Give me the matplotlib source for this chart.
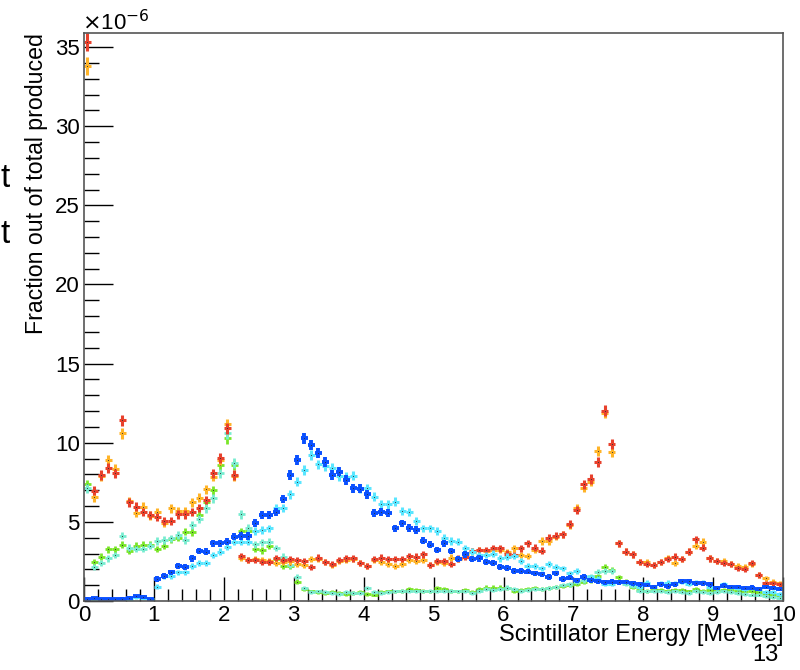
import numpy as np
import matplotlib
matplotlib.use('Agg')
import matplotlib.pyplot as plt
from matplotlib.ticker import MultipleLocator

plt.rcParams['font.family'] = ['Liberation Sans', 'DejaVu Sans']

# 100 bins of 0.1 MeVee, values in units of 1e-6
bin_lo = 0.0
bin_w = 0.1

red = [35.3, 6.97, 7.96, 8.42, 8.06, 11.43, 6.23, 5.96, 5.60, 5.43,
       5.33, 5.05, 5.05, 5.47, 5.47, 5.64, 5.89, 6.38, 8.06, 9.05,
       10.9, 7.96, 2.84, 2.59, 2.59, 2.48, 2.48, 2.70, 2.60, 2.65,
       2.60, 2.55, 2.17, 2.74, 2.48, 2.35, 2.59, 2.69, 2.69, 2.38,
       2.23, 2.63, 2.74, 2.63, 2.63, 2.63, 2.84, 2.80, 2.95, 2.27,
       2.55, 2.55, 2.31, 2.69, 2.80, 3.16, 3.22, 3.22, 3.33, 3.33,
       3.00, 2.90, 3.33, 3.64, 3.37, 3.18, 4.00, 4.13, 4.21, 4.84,
       5.73, 7.37, 7.71, 8.80, 12.02, 9.92, 3.64, 3.12, 2.95, 2.48,
       2.36, 2.27, 2.48, 2.63, 2.80, 2.65, 3.12, 3.90, 3.37, 2.69,
       2.55, 2.38, 2.31, 2.06, 2.02, 2.38, 1.64, 1.12, 1.12, 1.05]

orange = [33.8, 6.55, 7.90, 8.91, 8.34, 10.59, 6.32, 5.54, 5.96, 5.40,
          5.60, 4.91, 5.85, 5.68, 5.68, 6.23, 6.53, 7.07, 7.85, 8.90,
          11.16, 7.90, 2.70, 2.59, 2.65, 2.60, 2.50, 2.40, 2.45, 2.50,
          2.35, 2.30, 2.65, 2.65, 2.48, 2.27, 2.52, 2.59, 2.65, 2.38,
          2.23, 2.59, 2.48, 2.31, 2.23, 2.31, 2.59, 2.52, 2.59, 2.30,
          2.48, 2.38, 2.74, 2.65, 2.95, 3.12, 3.22, 3.16, 3.25, 3.22,
          3.10, 3.33, 2.90, 2.84, 3.22, 3.79, 3.79, 4.06, 4.21, 4.80,
          5.85, 7.16, 7.54, 9.48, 11.9, 9.43, 3.64, 3.12, 2.95, 2.48,
          2.45, 2.27, 2.48, 2.70, 2.38, 2.65, 3.12, 3.48, 3.75, 2.69,
          2.55, 2.55, 2.31, 2.20, 2.15, 2.31, 1.64, 1.43, 1.22, 1.12]

green = [7.37, 2.48, 2.80, 3.26, 3.26, 3.54, 3.16, 3.49, 3.54, 3.54,
         3.28, 3.50, 3.90, 4.00, 4.38, 4.35, 5.43, 6.23, 7.01, 8.59,
         10.28, 8.60, 4.40, 4.45, 3.30, 3.20, 3.50, 2.65, 2.20, 2.20,
         1.22, 0.78, 0.60, 0.55, 0.50, 0.55, 0.50, 0.45, 0.50, 0.55,
         0.45, 0.40, 0.55, 0.60, 0.60, 0.65, 0.75, 0.70, 0.65, 0.60,
         0.80, 0.75, 0.65, 0.60, 0.70, 0.55, 0.75, 0.85, 0.85, 0.85,
         0.80, 0.60, 0.70, 0.75, 0.80, 0.75, 0.80, 0.90, 0.95, 1.00,
         1.10, 1.20, 1.30, 1.55, 2.13, 1.95, 1.50, 1.22, 0.90, 0.70,
         0.65, 0.70, 0.70, 0.65, 0.70, 0.70, 0.60, 0.75, 0.65, 0.70,
         0.65, 0.70, 0.70, 0.65, 0.60, 0.60, 0.55, 0.45, 0.40, 0.35]

aqua = [7.12, 2.17, 2.38, 2.69, 2.91, 4.13, 3.37, 3.28, 3.28, 3.50,
        3.79, 3.85, 3.96, 4.17, 3.85, 4.80, 5.18, 5.85, 6.49, 8.06,
        10.60, 8.70, 5.47, 4.60, 3.60, 3.70, 3.75, 3.35, 2.80, 2.30,
        1.54, 0.80, 0.55, 0.60, 0.55, 0.50, 0.45, 0.55, 0.50, 0.50,
        0.80, 0.55, 0.50, 0.55, 0.60, 0.65, 0.60, 0.60, 0.60, 0.65,
        0.60, 0.65, 0.65, 0.60, 0.60, 0.50, 0.65, 0.75, 0.70, 0.75,
        0.85, 0.75, 0.65, 0.70, 0.75, 0.75, 0.80, 0.90, 1.00, 1.05,
        1.20, 1.30, 1.55, 1.85, 1.90, 1.90, 1.20, 1.10, 0.95, 0.65,
        0.60, 0.60, 0.60, 0.55, 0.60, 0.55, 0.50, 0.65, 0.55, 0.50,
        0.55, 0.60, 0.55, 0.50, 0.45, 0.40, 0.40, 0.30, 0.25, 0.20]

blue = [0.15, 0.18, 0.10, 0.10, 0.12, 0.15, 0.20, 0.30, 0.25, 0.10,
        1.39, 1.58, 1.81, 2.23, 2.16, 2.69, 3.16, 3.12, 3.64, 3.64,
        3.75, 4.06, 4.10, 4.10, 4.91, 5.43, 5.43, 5.64, 6.44, 7.96,
        8.90, 10.28, 9.85, 9.33, 8.80, 7.96, 8.17, 7.64, 7.12, 7.08,
        6.74, 5.54, 5.60, 5.54, 4.59, 4.90, 4.63, 4.49, 3.81, 3.54,
        3.22, 3.64, 3.16, 2.65, 2.95, 2.65, 2.69, 2.48, 2.38, 2.17,
        2.10, 1.90, 1.90, 1.85, 1.74, 1.68, 1.52, 1.74, 1.39, 1.47,
        1.32, 1.52, 1.32, 1.26, 1.17, 1.22, 1.17, 1.20, 1.12, 1.05,
        1.00, 0.90, 1.05, 0.93, 1.05, 1.26, 1.26, 1.12, 1.12, 1.05,
        0.84, 0.97, 0.90, 0.88, 0.80, 0.85, 0.76, 0.90, 0.80, 0.76]

cyan = [0.10, 0.12, 0.08, 0.10, 0.10, 0.12, 0.15, 0.25, 0.20, 0.12,
        0.91, 1.55, 1.55, 1.81, 1.81, 2.23, 2.38, 2.38, 2.91, 3.12,
        3.43, 3.75, 3.75, 3.75, 4.42, 4.50, 4.59, 5.89, 5.89, 6.74,
        7.54, 8.28, 9.22, 8.63, 8.50, 8.40, 7.90, 7.85, 7.92, 7.12,
        7.12, 6.59, 6.11, 6.11, 6.27, 5.68, 5.60, 5.05, 4.59, 4.59,
        4.42, 4.00, 3.79, 3.75, 3.33, 3.12, 2.91, 2.91, 3.00, 2.69,
        2.80, 2.84, 2.55, 2.23, 2.23, 2.06, 2.32, 2.17, 2.06, 1.74,
        1.90, 1.52, 1.50, 1.40, 1.10, 1.10, 1.20, 1.20, 1.10, 0.90,
        1.15, 0.90, 1.10, 1.15, 1.10, 1.20, 1.10, 1.20, 1.15, 0.90,
        0.84, 1.05, 0.90, 0.84, 0.75, 0.84, 0.75, 0.59, 0.55, 0.44]

# colour, line width, draw order
series = [(green, '#7ae628', 2.0),
          (aqua, '#78ecd0', 2.0),
          (orange, '#ffb428', 2.2),
          (red, '#e8412c', 2.2),
          (cyan, '#5ae6ff', 2.2),
          (blue, '#0a50ff', 2.8)]

centers = bin_lo + bin_w * (np.arange(100) + 0.5)

fig = plt.figure(figsize=(8, 6.7), dpi=100)
ax = fig.add_axes([0.105, 0.103, 0.874, 0.848])

for vals, col, lw in series:
    v = np.array(vals)
    err = 0.06 + 0.085 * np.sqrt(v)
    ax.errorbar(centers, v, xerr=bin_w / 2, yerr=err, fmt='none',
                ecolor=col, elinewidth=lw, capsize=0)
    ax.plot(centers, v, ls='none', marker='s', ms=0.7, mew=0,
            color='#333333', alpha=0.7)

ax.set_xlim(0, 10)
ax.set_ylim(0, 35.9)
ax.xaxis.set_major_locator(MultipleLocator(1))
ax.xaxis.set_minor_locator(MultipleLocator(0.2))
ax.yaxis.set_major_locator(MultipleLocator(5))
ax.yaxis.set_minor_locator(MultipleLocator(1))
ax.tick_params(which='both', direction='in', top=False, right=False,
               labelsize=16, colors='k', width=1)
ax.tick_params(which='major', length=17, pad=3)
ax.tick_params(which='minor', length=9)
ax.tick_params(axis='y', which='major', length=21)
ax.tick_params(axis='y', which='minor', length=11)
for sp in ax.spines.values():
    sp.set_color('#555555')
    sp.set_linewidth(1.2)

fig.text(0.979, 0.052, "Scintillator Energy [MeVee]", ha='right', va='center', fontsize=17)
fig.text(0.046, 0.951, "Fraction out of total produced", rotation=90,
         ha='center', va='top', fontsize=16.7)
fig.text(0.103, 0.967, r"$\times$10$^{-6}$", ha='left', va='center', fontsize=16)
fig.text(0.94, 0.022, "13", ha='left', va='center', fontsize=17)
fig.text(0.001, 0.734, "t", ha='left', va='center', fontsize=24)
fig.text(0.001, 0.650, "t", ha='left', va='center', fontsize=24)

plt.savefig('out.png', dpi=100)
